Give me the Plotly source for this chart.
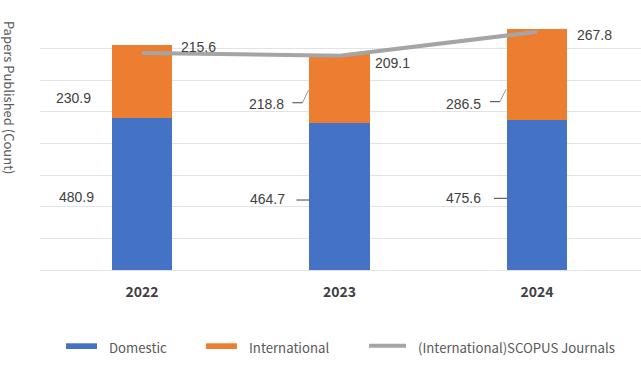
import plotly.graph_objects as go

# ---------------- data ----------------
years = ["2022", "2023", "2024"]
domestic = [480.9, 464.7, 475.6]
international = [230.9, 218.8, 286.5]
scopus = [215.6, 209.1, 267.8]
series_names = ["Domestic", "International", "(International)SCOPUS Journals"]
y_title = "Papers Published (Count)"

# ---------------- style ----------------
C_DOM = "#4472C4"
C_INT = "#ED7D31"
C_SCO = "#A5A5A5"
GRID = "#E3E3E3"
LBL = "#404040"
TXT = "#595959"
CJK = "Noto Sans CJK KR"
NUM = "Liberation Sans"

W, H = 641, 371
ML, MR, MT, MB = 40, 0, 17, 101
PW, PH = W - ML - MR, H - MT - MB

x_idx = list(range(len(years)))

fig = go.Figure()
fig.add_trace(go.Bar(x=x_idx, y=domestic, name=series_names[0], marker=dict(color=C_DOM, line=dict(width=0)),
                     width=0.304, showlegend=False, yaxis="y"))
fig.add_trace(go.Bar(x=x_idx, y=international, name=series_names[1], marker=dict(color=C_INT, line=dict(width=0)),
                     width=0.304, showlegend=False, yaxis="y"))
fig.add_trace(go.Scatter(x=x_idx, y=scopus, name=series_names[2], mode="lines",
                         line=dict(color=C_SCO, width=4), showlegend=False, yaxis="y2"))

annotations = []
shapes = []

# domestic labels
dom_xshift = [-46, -53, -54]
dom_yshift = [-3, -2.5, -3]
dom_leader = [False, True, True]
for i, v in enumerate(domestic):
    annotations.append(dict(x=i, y=v / 2, xref="x", yref="y", text=f"{v:.1f}", showarrow=False,
                            xanchor="right", yanchor="middle", xshift=dom_xshift[i], yshift=dom_yshift[i],
                            font=dict(family=NUM, size=14, color=LBL)))
    if dom_leader[i]:
        shapes.append(dict(type="line", xref="x", yref="y", xsizemode="pixel", ysizemode="pixel",
                           xanchor=i, yanchor=v / 2, x0=-43, x1=-30, y0=-3.5, y1=-3.5,
                           line=dict(color=LBL, width=1)))

# international labels (anchored at top of domestic bar)
int_xshift = [-49, -54, -54]
int_yshift = [20, 19, 15.3]
int_leader = [None, (20.3, 33), (17.9, 30.3)]
for i, v in enumerate(international):
    annotations.append(dict(x=i, y=domestic[i], xref="x", yref="y", text=f"{v:.1f}", showarrow=False,
                            xanchor="right", yanchor="middle", xshift=int_xshift[i], yshift=int_yshift[i],
                            font=dict(family=NUM, size=14, color=LBL)))
    if int_leader[i]:
        ya, yb = int_leader[i]
        shapes.append(dict(type="line", xref="x", yref="y", xsizemode="pixel", ysizemode="pixel",
                           xanchor=i, yanchor=domestic[i], x0=-47, x1=-37, y0=ya, y1=ya,
                           line=dict(color=LBL, width=1)))
        shapes.append(dict(type="line", xref="x", yref="y", xsizemode="pixel", ysizemode="pixel",
                           xanchor=i, yanchor=domestic[i], x0=-37, x1=-31, y0=ya, y1=yb,
                           line=dict(color="#808080", width=0.8)))

# scopus labels
sco_xshift = [37, 33, 38]
sco_yshift = [6, -7.3, -3]
for i, v in enumerate(scopus):
    annotations.append(dict(x=i, y=v, xref="x", yref="y2", text=f"{v:.1f}", showarrow=False,
                            xanchor="left", yanchor="middle", xshift=sco_xshift[i], yshift=sco_yshift[i],
                            font=dict(family=NUM, size=14, color=LBL)))

# y title (rotated, reading top to bottom)
annotations.append(dict(x=(9.5 - ML) / PW, y=(MT + PH - 97.5) / PH, xref="paper", yref="paper",
                        text=y_title, textangle=90, showarrow=False, xanchor="center", yanchor="middle",
                        borderpad=0, font=dict(family=CJK, size=13, color=TXT)))

# manual legend
def px(xp):
    return (xp - ML) / PW

def py(yp):
    return (MT + PH - yp) / PH

shapes.append(dict(type="rect", xref="paper", yref="paper", x0=px(66), x1=px(97), y0=py(343.3), y1=py(349),
                   fillcolor=C_DOM, line=dict(width=0)))
shapes.append(dict(type="rect", xref="paper", yref="paper", x0=px(206), x1=px(237), y0=py(343.3), y1=py(349),
                   fillcolor=C_INT, line=dict(width=0)))
shapes.append(dict(type="line", xref="paper", yref="paper", x0=px(369), x1=px(406), y0=py(345.7), y1=py(345.7),
                   line=dict(color=C_SCO, width=4)))
for name, lx in zip(series_names, [106.5, 246.5, 416]):
    annotations.append(dict(x=px(lx), y=py(347.5), xref="paper", yref="paper", text=name, showarrow=False,
                            xanchor="left", yanchor="middle", font=dict(family=CJK, size=13.2, color=TXT)))

fig.update_layout(
    width=W, height=H,
    margin=dict(l=ML, r=MR, t=MT, b=MB, pad=0),
    paper_bgcolor="white", plot_bgcolor="white",
    barmode="stack", bargap=0,
    showlegend=False,
    xaxis=dict(tickmode="array", tickvals=x_idx, ticktext=years, range=[-0.5165, 2.5266],
               showgrid=False, zeroline=False, showline=False, ticks="", ticklabelstandoff=12,
               tickfont=dict(family=CJK, size=14, color=LBL, weight="bold")),
    yaxis=dict(range=[0, 800], dtick=100, showticklabels=False, showgrid=True, gridcolor=GRID, gridwidth=1,
               zeroline=True, zerolinecolor=GRID, zerolinewidth=1, showline=False, ticks=""),
    yaxis2=dict(range=[-318.2, 304.4], overlaying="y", side="right", visible=False, showgrid=False,
                zeroline=False),
    annotations=annotations,
    shapes=shapes,
)

fig.write_html("out.html", config={"displayModeBar": False},
               post_script="document.body.style.margin='0';document.body.style.overflow='hidden';")
